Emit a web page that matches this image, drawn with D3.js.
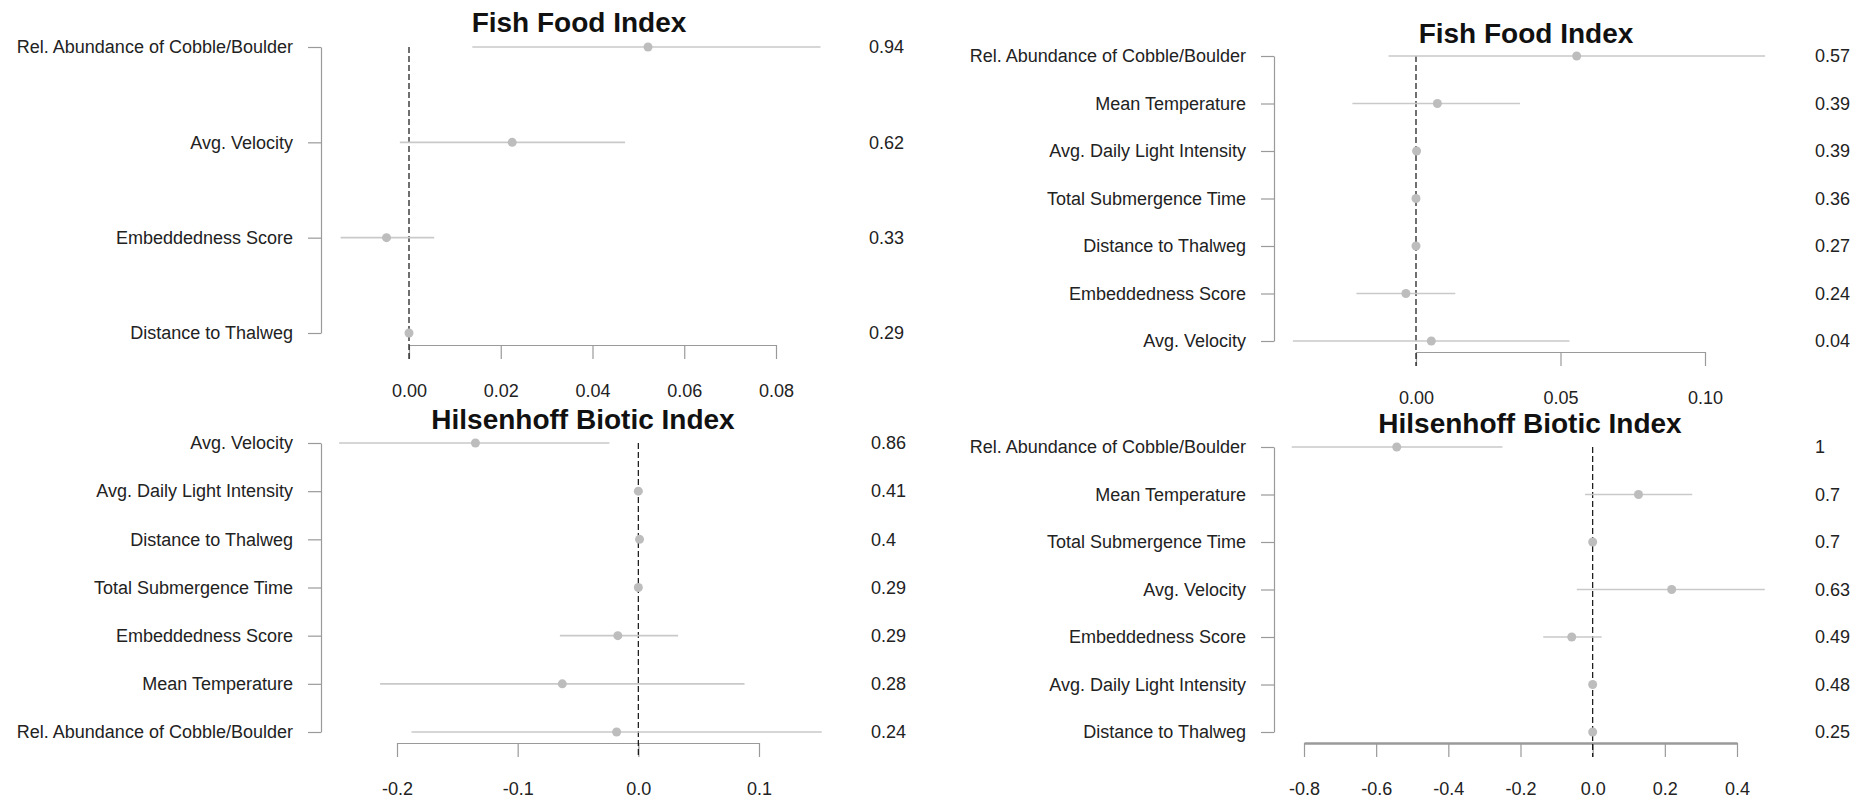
<!DOCTYPE html>
<html>
<head>
<meta charset="utf-8">
<script src="https://cdnjs.cloudflare.com/ajax/libs/d3/7.8.5/d3.min.js"></script>
<style>
  html, body { margin: 0; padding: 0; background: #ffffff; }
  svg { display: block; }
  text { font-family: "Liberation Sans", Arial, sans-serif; }
</style>
</head>
<body>
<svg id="chart" width="1864" height="799"></svg>
<script>
// ---- Fish Food Index, reduced model (top left) ----
const ffaVars   = ["Rel. Abundance of Cobble/Boulder", "Avg. Velocity", "Embeddedness Score", "Distance to Thalweg"];
const ffaEst    = [0.0521, 0.0225, -0.0049, 0.0];
const ffaLow    = [0.0138, -0.0020, -0.0149, -0.0002];
const ffaHigh   = [0.0897, 0.0471, 0.0055, 0.0002];
const ffaWeight = ["0.94", "0.62", "0.33", "0.29"];
const ffaTicks  = [0.00, 0.02, 0.04, 0.06, 0.08];

// ---- Fish Food Index, full model (top right) ----
const ffbVars   = ["Rel. Abundance of Cobble/Boulder", "Mean Temperature", "Avg. Daily Light Intensity", "Total Submergence Time", "Distance to Thalweg", "Embeddedness Score", "Avg. Velocity"];
const ffbEst    = [0.0556, 0.0074, 0.0002, 0.0, 0.0, -0.0035, 0.0053];
const ffbLow    = [-0.0095, -0.0220, -0.0003, -0.0003, -0.0003, -0.0206, -0.0426];
const ffbHigh   = [0.1208, 0.0360, 0.0007, 0.0003, 0.0003, 0.0136, 0.0531];
const ffbWeight = ["0.57", "0.39", "0.39", "0.36", "0.27", "0.24", "0.04"];
const ffbTicks  = [0.00, 0.05, 0.10];

// ---- Hilsenhoff Biotic Index, model A (bottom left) ----
const hbaVars   = ["Avg. Velocity", "Avg. Daily Light Intensity", "Distance to Thalweg", "Total Submergence Time", "Embeddedness Score", "Mean Temperature", "Rel. Abundance of Cobble/Boulder"];
const hbaEst    = [-0.135, 0.0, 0.001, 0.0, -0.017, -0.063, -0.018];
const hbaLow    = [-0.248, -0.001, 0.0, -0.001, -0.065, -0.214, -0.188];
const hbaHigh   = [-0.024, 0.001, 0.002, 0.001, 0.033, 0.088, 0.152];
const hbaWeight = ["0.86", "0.41", "0.4", "0.29", "0.29", "0.28", "0.24"];
const hbaTicks  = [-0.2, -0.1, 0.0, 0.1];

// ---- Hilsenhoff Biotic Index, model B (bottom right) ----
const hbbVars   = ["Rel. Abundance of Cobble/Boulder", "Mean Temperature", "Total Submergence Time", "Avg. Velocity", "Embeddedness Score", "Avg. Daily Light Intensity", "Distance to Thalweg"];
const hbbEst    = [-0.543, 0.127, 0.0, 0.219, -0.058, 0.0, 0.0];
const hbbLow    = [-0.834, -0.021, -0.003, -0.044, -0.137, -0.003, -0.003];
const hbbHigh   = [-0.250, 0.276, 0.003, 0.477, 0.025, 0.003, 0.003];
const hbbWeight = ["1", "0.7", "0.7", "0.63", "0.49", "0.48", "0.25"];
const hbbTicks  = [-0.8, -0.6, -0.4, -0.2, 0.0, 0.2, 0.4];

// Plain hyphen-minus for negative tick labels
const locale = d3.formatLocale({ decimal: ".", thousands: ",", grouping: [3], currency: ["$", ""], minus: "-" });

// Panel layout: pixel geometry of each coefficient plot
const panels = [
  { title: "Fish Food Index", vars: ffaVars, est: ffaEst, lo: ffaLow, hi: ffaHigh, w: ffaWeight, ticks: ffaTicks,
    fmt: locale.format(".2f"), x0: 409, x1: 776, rowTop: 47, rowBot: 333, axisY: 345, yAxisX: 321,
    titleX: 579, titleY: 32, weightX: 869, axisW: 1.2 },
  { title: "Fish Food Index", vars: ffbVars, est: ffbEst, lo: ffbLow, hi: ffbHigh, w: ffbWeight, ticks: ffbTicks,
    fmt: locale.format(".2f"), x0: 1416, x1: 1705, rowTop: 56, rowBot: 341, axisY: 352, yAxisX: 1274,
    titleX: 1526, titleY: 43, weightX: 1815, axisW: 1.2 },
  { title: "Hilsenhoff Biotic Index", vars: hbaVars, est: hbaEst, lo: hbaLow, hi: hbaHigh, w: hbaWeight, ticks: hbaTicks,
    fmt: locale.format(".1f"), x0: 397, x1: 759, rowTop: 443, rowBot: 732, axisY: 743, yAxisX: 321,
    titleX: 583, titleY: 429, weightX: 871, axisW: 1.2 },
  { title: "Hilsenhoff Biotic Index", vars: hbbVars, est: hbbEst, lo: hbbLow, hi: hbbHigh, w: hbbWeight, ticks: hbbTicks,
    fmt: locale.format(".1f"), x0: 1304, x1: 1737, rowTop: 447, rowBot: 732, axisY: 743, yAxisX: 1274,
    titleX: 1530, titleY: 433, weightX: 1815, axisW: 2.4 }
];

const svg = d3.select("#chart");
const axisColor = "#9a9a9a";
const ciColor = "#c9c9c9";
const dotColor = "#bdbdbd";
const tickLen = 14;

panels.forEach(p => {
  const g = svg.append("g");
  const x = d3.scaleLinear()
    .domain([p.ticks[0], p.ticks[p.ticks.length - 1]])
    .range([p.x0, p.x1]);
  const y = d3.scalePoint()
    .domain(p.vars)
    .range([p.rowTop, p.rowBot]);

  const rows = p.vars.map((v, i) => ({ v, est: p.est[i], lo: p.lo[i], hi: p.hi[i], w: p.w[i] }));

  // title
  g.append("text")
    .attr("x", p.titleX).attr("y", p.titleY)
    .attr("text-anchor", "middle")
    .attr("font-size", 28).attr("font-weight", "bold")
    .attr("fill", "#111")
    .text(p.title);

  // x axis
  const xAxis = g.append("g")
    .attr("transform", `translate(0,${p.axisY})`)
    .call(d3.axisBottom(x).tickValues(p.ticks).tickFormat(p.fmt)
      .tickSize(tickLen).tickSizeOuter(0).tickPadding(25));
  xAxis.select(".domain").attr("stroke", axisColor).attr("stroke-width", p.axisW);
  xAxis.selectAll(".tick line").attr("stroke", axisColor).attr("stroke-width", 1.2);
  xAxis.selectAll(".tick text")
    .attr("font-size", 18).attr("fill", "#222")
    .attr("font-family", "'Liberation Sans', Arial, sans-serif");

  // y axis
  const yAxis = g.append("g")
    .attr("transform", `translate(${p.yAxisX},0)`)
    .call(d3.axisLeft(y).tickSize(13).tickSizeOuter(0).tickPadding(15));
  yAxis.select(".domain").attr("stroke", axisColor).attr("stroke-width", 1.2);
  yAxis.selectAll(".tick line").attr("stroke", axisColor).attr("stroke-width", 1.2);
  yAxis.selectAll(".tick text")
    .attr("font-size", 18).attr("fill", "#222")
    .attr("font-family", "'Liberation Sans', Arial, sans-serif");

  // reference line at zero
  g.append("line")
    .attr("x1", x(0)).attr("x2", x(0))
    .attr("y1", p.rowTop).attr("y2", p.axisY + tickLen)
    .attr("stroke", "#111").attr("stroke-width", 1.2)
    .attr("stroke-dasharray", "6,3");

  // confidence intervals
  g.selectAll("line.ci").data(rows).join("line")
    .attr("class", "ci")
    .attr("x1", d => x(d.lo)).attr("x2", d => x(d.hi))
    .attr("y1", d => y(d.v)).attr("y2", d => y(d.v))
    .attr("stroke", ciColor).attr("stroke-width", 1.6);

  // point estimates
  g.selectAll("circle.est").data(rows).join("circle")
    .attr("class", "est")
    .attr("cx", d => x(d.est)).attr("cy", d => y(d.v))
    .attr("r", 4.5).attr("fill", dotColor);

  // model weights on the right
  g.selectAll("text.weight").data(rows).join("text")
    .attr("class", "weight")
    .attr("x", p.weightX).attr("y", d => y(d.v))
    .attr("dy", "0.35em")
    .attr("font-size", 18).attr("fill", "#222")
    .text(d => d.w);
});
</script>
</body>
</html>
